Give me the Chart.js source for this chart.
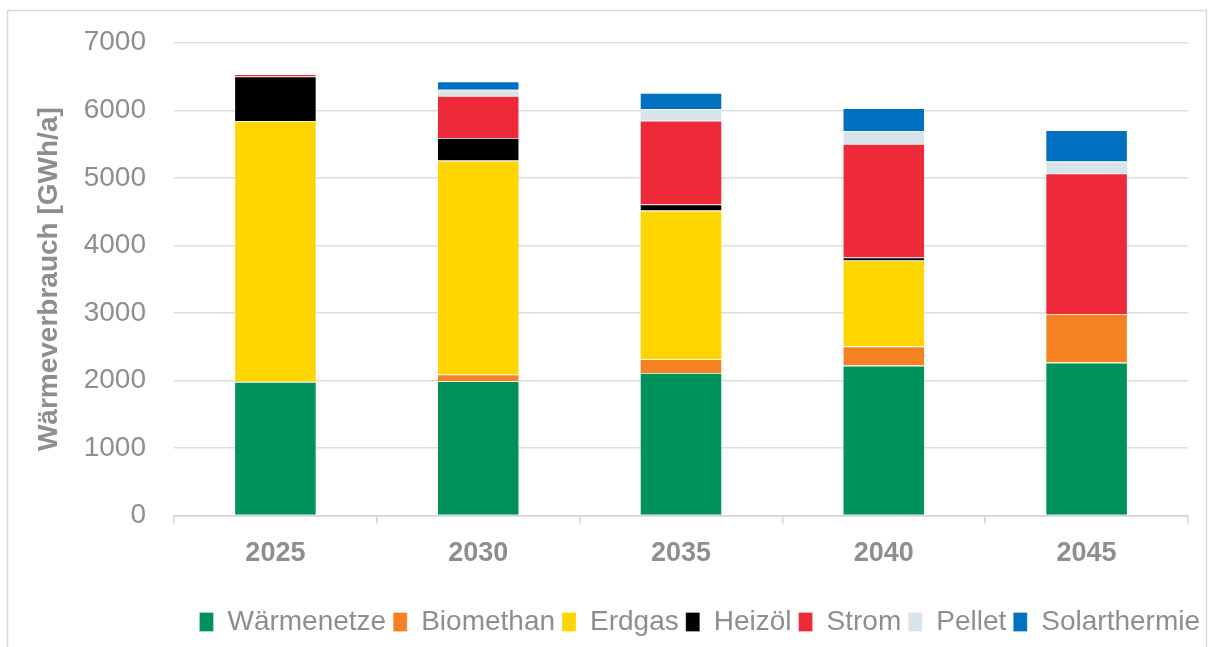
<!DOCTYPE html>
<html>
<head>
<meta charset="utf-8">
<script src="https://cdn.jsdelivr.net/npm/chart.js@4.4.1/dist/chart.umd.min.js"></script>
<style>
  html, body { margin: 0; padding: 0; background: #ffffff; }
  #wrap { position: relative; width: 1212px; height: 647px; }
</style>
</head>
<body>
<div id="wrap"><canvas id="chart" width="1212" height="647"></canvas></div>
<script>
// Heat consumption by energy carrier, GWh per year
const years = ['2025', '2030', '2035', '2040', '2045'];
const waermenetze  = [1980, 1990, 2110, 2220, 2265];
const biomethan    = [0, 100, 205, 285, 720];
const erdgas       = [3860, 3165, 2200, 1270, 0];
const heizoel      = [660, 335, 90, 45, 0];
const strom        = [35, 620, 1240, 1680, 2080];
const pellet       = [0, 95, 175, 190, 175];
const solarthermie = [0, 120, 235, 340, 465];
const yTicks = [0, 1000, 2000, 3000, 4000, 5000, 6000, 7000];

const FONT = "'Liberation Sans', Arial, sans-serif";
const GREY = '#8e8e8e';

const series = [
  { label: 'Wärmenetze',   data: waermenetze,  color: '#00925B' },
  { label: 'Biomethan',    data: biomethan,    color: '#F48222' },
  { label: 'Erdgas',       data: erdgas,       color: '#FFD500' },
  { label: 'Heizöl',       data: heizoel,      color: '#000000' },
  { label: 'Strom',        data: strom,        color: '#EE2A3A' },
  { label: 'Pellet',       data: pellet,       color: '#D9E3EA' },
  { label: 'Solarthermie', data: solarthermie, color: '#0070C0' }
];

// white page with a thin light frame around it
const framePlugin = {
  id: 'frame',
  beforeDraw(chart) {
    const c = chart.ctx;
    c.save();
    c.fillStyle = '#ffffff';
    c.fillRect(0, 0, chart.width, chart.height);
    c.strokeStyle = '#dadada';
    c.lineWidth = 1.5;
    c.strokeRect(7.5, 10.5, 1199, 640);
    c.restore();
  }
};

new Chart(document.getElementById('chart'), {
  type: 'bar',
  data: {
    labels: years,
    datasets: series.map(s => ({
      label: s.label,
      data: s.data,
      backgroundColor: s.color,
      borderColor: 'rgba(255,255,255,0.35)',
      borderWidth: 0.8,
      barPercentage: 0.405,
      categoryPercentage: 1.0
    }))
  },
  options: {
    responsive: false,
    animation: false,
    layout: { padding: { left: 28, right: 5, top: 34, bottom: 1 } },
    plugins: {
      tooltip: { enabled: false },
      legend: {
        position: 'bottom',
        align: 'end',
        labels: {
          color: GREY,
          font: { family: FONT, size: 28 },
          boxWidth: 14,
          boxHeight: 19,
          padding: 7
        }
      }
    },
    scales: {
      x: {
        stacked: true,
        afterFit(scale) { scale.height += 17; },
        grid: {
          display: true,
          drawOnChartArea: false,
          drawTicks: true,
          tickLength: 8,
          color: '#d4d4d4',
          lineWidth: 1.5
        },
        border: { display: true, color: '#d4d4d4', width: 1.5 },
        ticks: {
          color: GREY,
          padding: 14,
          font: { family: FONT, size: 27, weight: 'bold' }
        }
      },
      y: {
        stacked: true,
        min: 0,
        max: 7000,
        afterBuildTicks(scale) { scale.ticks = yTicks.map(v => ({ value: v })); },
        afterFit(scale) { scale.width = 146; },
        grid: { color: '#dedede', lineWidth: 1.5, drawTicks: false },
        border: { display: false },
        ticks: {
          color: GREY,
          padding: 28,
          font: { family: FONT, size: 28, lineHeight: 1.05 },
          callback: v => String(v)
        },
        title: {
          display: true,
          text: 'Wärmeverbrauch [GWh/a]',
          color: GREY,
          font: { family: FONT, size: 28, weight: 'bold' }
        }
      },
      // empty strip that keeps the plot clear of the right frame edge
      yRight: {
        position: 'right',
        display: true,
        afterFit(scale) { scale.width = 19; },
        grid: { display: false, drawTicks: false },
        border: { display: false },
        ticks: { display: false }
      }
    }
  },
  plugins: [framePlugin]
});
</script>
</body>
</html>
